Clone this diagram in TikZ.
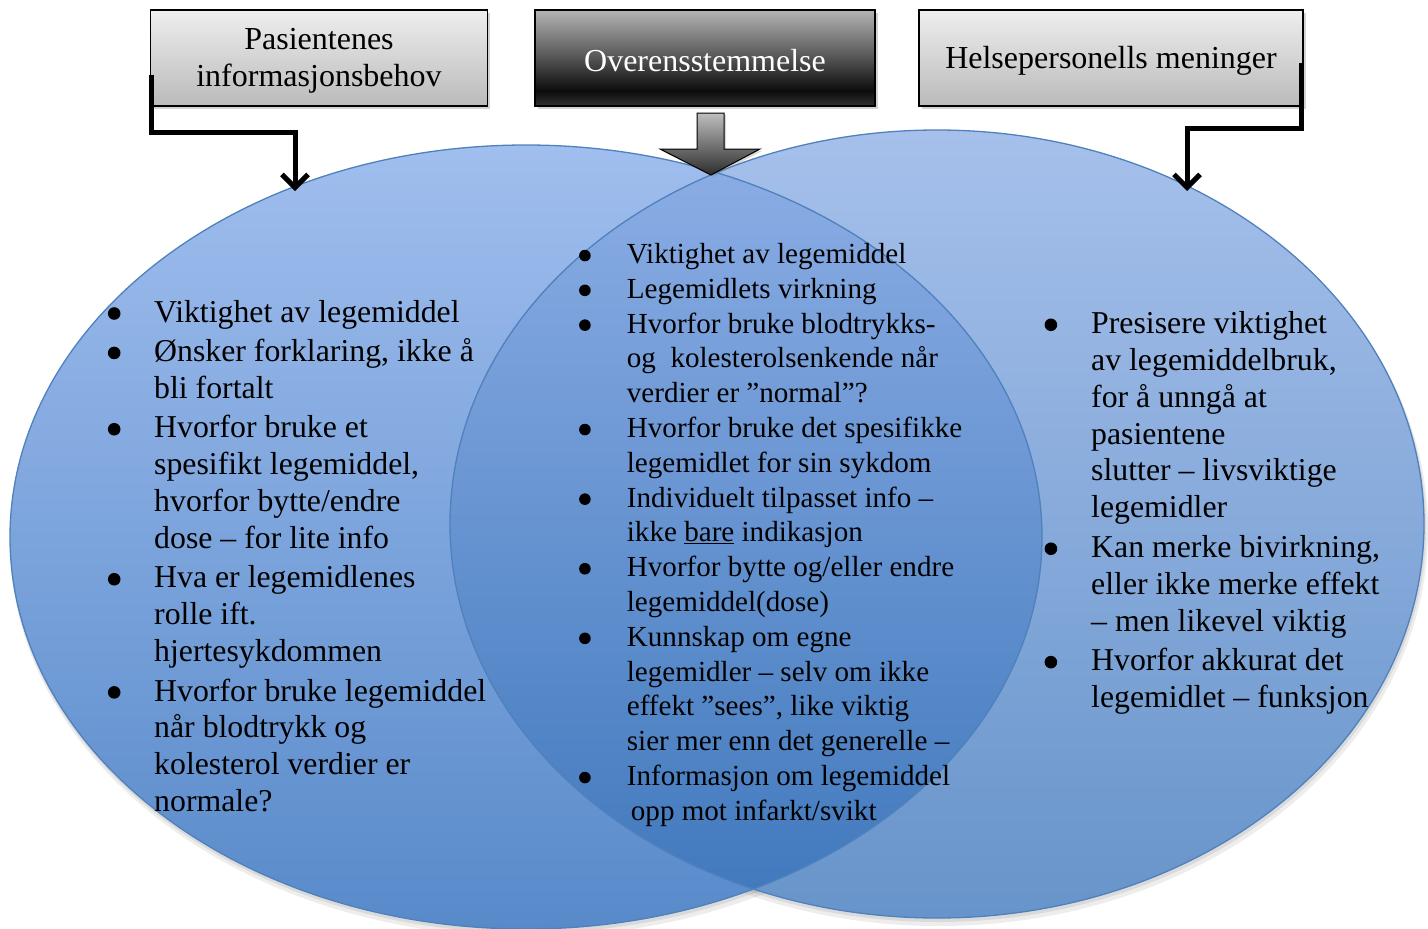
\documentclass[tikz,border=0pt]{standalone}
\usepackage{fontspec}
\setmainfont{Liberation Serif}
\usetikzlibrary{arrows.meta,shadows}

% circle fills
\definecolor{leftTop}{RGB}{160,190,238}
\definecolor{leftBot}{RGB}{88,138,202}
\definecolor{rightTop}{RGB}{166,192,235}
\definecolor{rightBot}{RGB}{103,148,202}
\definecolor{lensTop}{RGB}{142,175,230}
\definecolor{lensBot}{RGB}{63,120,188}
\definecolor{rim}{RGB}{79,129,189}
% header boxes
\definecolor{boxTop}{RGB}{238,238,238}
\definecolor{boxBot}{RGB}{186,186,186}
\definecolor{dkTop}{RGB}{180,180,180}
\definecolor{dkMid}{RGB}{92,92,92}
\definecolor{dkLow}{RGB}{12,12,12}
\definecolor{dkBot}{RGB}{48,48,48}
\definecolor{arrTop}{RGB}{190,190,190}
\definecolor{arrBot}{RGB}{45,45,45}

\pgfdeclareverticalshading{darkshade}{100bp}{color(0bp)=(dkBot); color(25bp)=(dkBot); color(33bp)=(dkLow); color(52bp)=(dkMid); color(75bp)=(dkTop); color(100bp)=(dkTop)}

% bullet cell: #1 cell width, #2 dot centre from the left, #3 dot radius, #4 dot centre above baseline
\newcommand\bi[4]{\makebox[#1][l]{\tikz[baseline=0pt]\fill (#2,#4) circle[radius=#3];}}
\newcommand\bl{\bi{46.3pt}{5.6pt}{6.3pt}{8.7pt}}
\newcommand\bm{\bi{47.8pt}{5.1pt}{5.8pt}{8pt}}
\newcommand\br{\bi{46.6pt}{5.6pt}{6.3pt}{8.7pt}}

\tikzset{
  headbox/.style={draw=black, line width=1.2pt, minimum height=96pt, inner sep=0pt,
    drop shadow={shadow xshift=2.5pt, shadow yshift=-3pt, opacity=0.35}},
  lightbox/.style={headbox, top color=boxTop, bottom color=boxBot},
  darkbox/.style={headbox, shading=darkshade},
  headtext/.style={inner sep=0pt, align=center, font=\fontsize{32}{37.3}\selectfont},
  elbow/.style={line width=5pt, line join=miter, -{Straight Barb[length=13pt, width=26pt]}},
  rimline/.style={draw=rim, line width=1.3pt},
  listtext/.style={anchor=north west, inner sep=0pt, align=left},
  bigfont/.style={font=\fontsize{31.8}{36.85}\selectfont},
  midfont/.style={font=\fontsize{29.1}{34.8}\selectfont},
}

\begin{document}
\begin{tikzpicture}[x=1pt,y=-1pt]
\useasboundingbox (0,0) rectangle (1428,929);

% soft shadows under the two circles
\fill[black,opacity=0.07] (528,543) ellipse [x radius=518, y radius=394];
\fill[black,opacity=0.07] (939,530) ellipse [x radius=489, y radius=396];
\fill[black,opacity=0.08] (527,540) ellipse [x radius=517, y radius=393];
\fill[black,opacity=0.08] (938,527) ellipse [x radius=488, y radius=395];

% the two circles
\shade[top color=leftTop, bottom color=leftBot] (526,537) ellipse [x radius=516, y radius=392];
\shade[top color=rightTop, bottom color=rightBot] (937,524) ellipse [x radius=487, y radius=394];

% their overlap
\begin{scope}
  \clip (526,537) ellipse [x radius=516, y radius=392];
  \shade[top color=lensTop, bottom color=lensBot] (937,524) ellipse [x radius=487, y radius=394];
\end{scope}

% rims
\draw[rimline] (526,537) ellipse [x radius=516, y radius=392];
\draw[rimline] (937,524) ellipse [x radius=487, y radius=394];

% header boxes and their titles
\node[lightbox, minimum width=337pt] (pas) at (319,58) {};
\node[darkbox, minimum width=340pt] (ove) at (705,58) {};
\node[lightbox, minimum width=384pt] (hel) at (1111,58) {};
\node[headtext] (pasT) at ([yshift=-3pt]pas.center) {Pasientenes\\informasjonsbehov};
\node[headtext, text=white] (oveT) at ([yshift=-3pt]ove.center) {Overensstemmelse};
\node[headtext] (helT) at ([yshift=-3pt]hel.center) {Helsepersonells meninger};

% block arrow from the middle box down to the overlap
\path[draw=black, line width=1pt, top color=arrTop, bottom color=arrBot,
      drop shadow={shadow xshift=2pt, shadow yshift=-2pt, opacity=0.3}]
  (697,113) -- (724,113) -- (724,149) -- (760,149) -- (711,175)
  -- (660,149) -- (697,149) -- cycle;

% elbow connectors from the side boxes
\coordinate (tipL) at (295,191);
\coordinate (tipR) at (1187,191);
\draw[elbow] ([xshift=2pt,yshift=32pt]pas.south west) -- ++(0,58) -| (tipL);
\draw[elbow] ([xshift=-2.5pt,yshift=44pt]hel.south east) -- ++(0,66) -| (tipR);

% left list
\node[listtext, bigfont] (listL) at (107.7,296.2) {%
\begin{tabular}{@{}l@{}l@{}}
\bl & Viktighet av legemiddel\\[2.6pt]
\bl & Ønsker forklaring, ikke å\\
 & bli fortalt\\[2.6pt]
\bl & Hvorfor bruke et\\
 & spesifikt legemiddel,\\
 & hvorfor bytte/endre\\
 & dose – for lite info\\[2.6pt]
\bl & Hva er legemidlenes\\
 & rolle ift.\\
 & hjertesykdommen\\[2.6pt]
\bl & Hvorfor bruke legemiddel\\
 & når blodtrykk og\\
 & kolesterol verdier er\\
 & normale?
\end{tabular}};

% middle list
\node[listtext, midfont] (listM) at (578.9,239) {%
\begin{tabular}{@{}l@{}l@{}}
\bm & Viktighet av legemiddel\\
\bm & Legemidlets virkning\\
\bm & Hvorfor bruke blodtrykks-\\
 & og\ \ kolesterolsenkende når\\
 & verdier er ”normal”?\\
\bm & Hvorfor bruke det spesifikke\\
 & legemidlet for sin sykdom\\
\bm & Individuelt tilpasset info –\\
 & ikke \underline{bare} indikasjon\\
\bm & Hvorfor bytte og/eller endre\\
 & legemiddel(dose)\\
\bm & Kunnskap om egne\\
 & legemidler – selv om ikke\\
 & effekt ”sees”, like viktig\\
 & sier mer enn det generelle –\\
\bm & Informasjon om legemiddel\\
 & \hspace{4pt}opp mot infarkt/svikt
\end{tabular}};

% right list
\node[listtext, bigfont] (listR) at (1044.4,307.5) {%
\begin{tabular}{@{}l@{}l@{}}
\br & Presisere viktighet\\
 & av legemiddelbruk,\\
 & for å unngå at\\
 & pasientene\\
 & slutter – livsviktige\\
 & legemidler\\[2.85pt]
\br & Kan merke bivirkning,\\
 & eller ikke merke effekt\\
 & – men likevel viktig\\[2.85pt]
\br & Hvorfor akkurat det\\
 & legemidlet – funksjon
\end{tabular}};
\end{tikzpicture}
\end{document}
